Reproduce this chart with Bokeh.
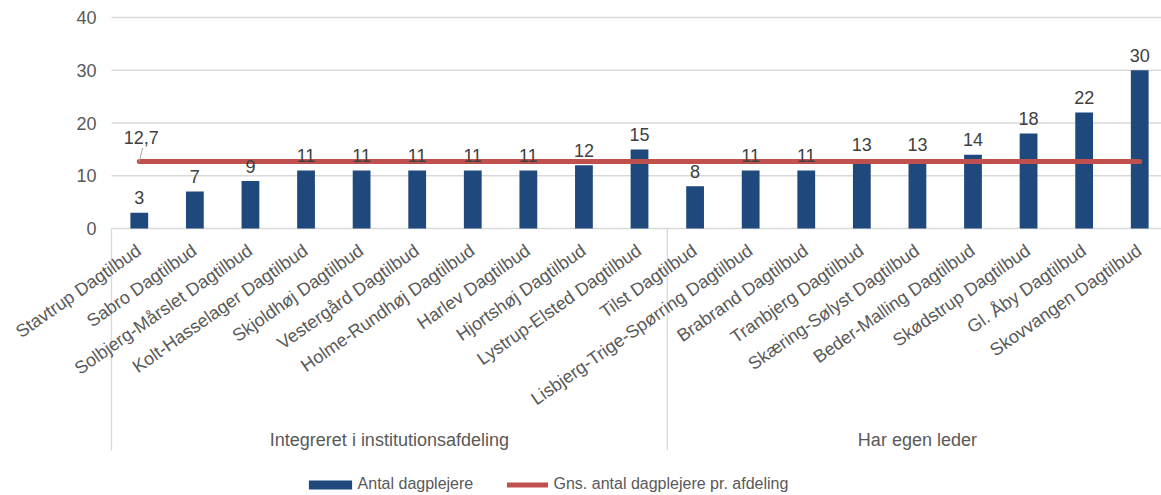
import math
from bokeh.plotting import figure
from bokeh.models import Range1d, ColumnDataSource, Legend, LegendItem
from bokeh.core.properties import value
from bokeh.embed import file_html
from bokeh.resources import INLINE

# ---------------- data ----------------
groups = ["Integreret i institutionsafdeling", "Har egen leder"]
group_sizes = [10, 9]
categories = [
    "Stavtrup Dagtilbud", "Sabro Dagtilbud", "Solbjerg-Mårslet Dagtilbud",
    "Kolt-Hasselager Dagtilbud", "Skjoldhøj Dagtilbud", "Vestergård Dagtilbud",
    "Holme-Rundhøj Dagtilbud", "Harlev Dagtilbud", "Hjortshøj Dagtilbud",
    "Lystrup-Elsted Dagtilbud",
    "Tilst Dagtilbud", "Lisbjerg-Trige-Spørring Dagtilbud", "Brabrand Dagtilbud",
    "Tranbjerg Dagtilbud", "Skæring-Sølyst Dagtilbud", "Beder-Malling Dagtilbud",
    "Skødstrup Dagtilbud", "Gl. Åby Dagtilbud", "Skovvangen Dagtilbud",
]
counts = [3, 7, 9, 11, 11, 11, 11, 11, 12, 15, 8, 11, 11, 13, 13, 14, 18, 22, 30]
average = 12.7
average_label = "12,7"
y_ticks = [0, 10, 20, 30, 40]
y_tick_labels = ["0", "10", "20", "30", "40"]
series_names = ["Antal dagplejere", "Gns. antal dagplejere pr. afdeling"]

# ---------------- style ----------------
FONT = "Liberation Sans"
FS = "18px"
BAR = "#1F497D"
RED = "#C0504D"
GRID = "#D9D9D9"
LABEL = "#595959"
DARK = "#404040"

W, H = 1161, 495
PLOT_LEFT = 111          # px where the category area starts
ZERO_Y = 228             # px of the zero line from the top
PX = 211 / 40.0          # px per y unit
CAT_PX = 55.58           # px per category slot
Y_MAX = 40


def dy(pixels):
    return pixels / PX


def dx(pixels):
    return pixels / CAT_PX


idx = list(range(len(categories)))
x_start = -0.5 - dx(PLOT_LEFT)
x_end = -0.5 + dx(W - PLOT_LEFT)
y_top = dy(ZERO_Y)
y_bottom = -dy(H - ZERO_Y)

p = figure(width=W, height=H,
           x_range=Range1d(x_start, x_end),
           y_range=Range1d(y_bottom, y_top),
           output_backend="svg", toolbar_location=None,
           x_axis_location=None, y_axis_location=None,
           min_border_left=0, min_border_right=0,
           min_border_top=0, min_border_bottom=0,
           outline_line_color=None, background_fill_color="white")
p.grid.visible = False

# horizontal grid lines (value axis)
p.segment(x0=[-0.5] * len(y_ticks), x1=[x_end] * len(y_ticks),
          y0=y_ticks, y1=y_ticks, line_color=GRID, line_width=1.3)
# value axis tick labels
p.text(x=[-0.5 - dx(15)] * len(y_ticks), y=y_ticks, text=y_tick_labels,
       text_align="right", text_baseline="middle",
       text_font=value(FONT), text_font_size=FS, text_color=LABEL)

# group separators (category axis)
bounds, centres = [-0.5], []
start = 0
for size in group_sizes:
    centres.append(start + (size - 1) / 2.0)
    start += size
    bounds.append(start - 0.5)
p.segment(x0=bounds, x1=bounds, y0=[0] * len(bounds),
          y1=[-dy(222)] * len(bounds), line_color=GRID, line_width=1.3)

# bars
src = ColumnDataSource(dict(
    x=idx,
    cat=categories,
    count=counts,
    txt=[str(c) for c in counts],
    ty=[c + dy(15) for c in counts],
    ly=[-dy(12)] * len(idx),
))
bars = p.vbar(x="x", top="count", width=0.32, source=src,
              fill_color=BAR, line_color=None)

# average line
avg_line = p.line(x=idx, y=[average] * len(idx),
                  line_width=5, line_color=RED, line_cap="round")

# value labels
p.text(x="x", y="ty", text="txt", source=src,
       text_align="center", text_baseline="alphabetic",
       text_font=value(FONT), text_font_size=FS, text_color=DARK)

# average label with leader line
p.segment(x0=[idx[0] + dx(3.3)], y0=[average + dy(13.5)],
          x1=[idx[0]], y1=[average],
          line_color="#A6A6A6", line_width=1)
p.text(x=[idx[0] + dx(2)], y=[average + dy(24)], text=[average_label],
       text_align="center", text_baseline="alphabetic",
       text_font=value(FONT), text_font_size=FS, text_color=DARK)

# category names (rotated)
p.text(x="x", y="ly", text="cat", source=src,
       angle=math.radians(35), x_offset=-6,
       text_align="right", text_baseline="top",
       text_font=value(FONT), text_font_size=FS, text_color=LABEL)

# group names
p.text(x=centres, y=[-dy(211)] * len(centres), text=groups,
       text_align="center", text_baseline="middle",
       text_font=value(FONT), text_font_size=FS, text_color=LABEL)

# legends (one per series, so each gets its own key width)
common = dict(orientation="horizontal", padding=0, margin=0, spacing=0,
              border_line_color=None, background_fill_alpha=0,
              label_text_font=FONT, label_text_font_size="16px",
              label_text_color=LABEL, glyph_height=11)
leg1 = Legend(items=[LegendItem(label=series_names[0], renderers=[bars])],
              location=(302.6, 2), glyph_width=54, label_standoff=1, **common)
leg2 = Legend(items=[LegendItem(label=series_names[1], renderers=[avg_line])],
              location=(506.5, 2), glyph_width=41, label_standoff=6, **common)
p.add_layout(leg1)
p.add_layout(leg2)

open("out.html", "w").write(file_html(p, INLINE))
